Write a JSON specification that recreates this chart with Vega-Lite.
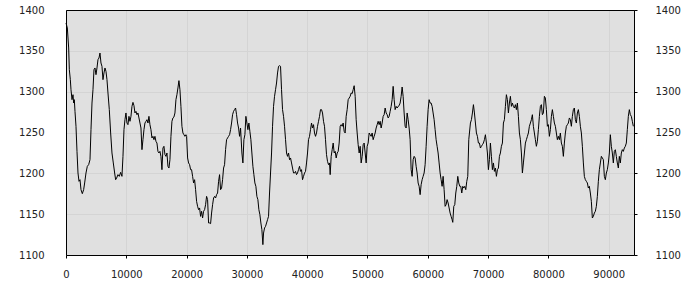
{
  "$schema": "https://vega.github.io/schema/vega-lite/v6.json",
  "width": 568,
  "height": 245,
  "autosize": {"type": "none"},
  "padding": {"left": 66, "top": 10, "right": 66, "bottom": 45},
  "background": "#ffffff",
  "view": {"fill": "#e0e0e0", "stroke": "#000000", "strokeWidth": 1},
  "config": {
    "axis": {
      "labelFont": "DejaVu Sans",
      "labelFontSize": 10,
      "labelColor": "#222222",
      "domainColor": "#000000",
      "tickColor": "#000000",
      "gridColor": "#d4d4d4",
      "gridOpacity": 1,
      "title": null
    }
  },
  "data": {"values": [
{"x":0,"v":1384.1},{"x":221,"v":1378.0},{"x":442,"v":1353.5},{"x":553,"v":1326.9},{"x":718,"v":1314.7},{"x":829,"v":1302.4},{"x":995,"v":1290.2},{"x":1160,"v":1296.3},{"x":1271,"v":1286.1},{"x":1381,"v":1290.2},{"x":1492,"v":1275.9},{"x":1658,"v":1257.6},{"x":1823,"v":1226.9},{"x":1989,"v":1200.4},{"x":2155,"v":1190.2},{"x":2321,"v":1192.2},{"x":2486,"v":1180.0},{"x":2707,"v":1175.1},{"x":2928,"v":1180.0},{"x":3094,"v":1188.2},{"x":3315,"v":1200.4},{"x":3536,"v":1208.6},{"x":3757,"v":1210.6},{"x":3978,"v":1216.7},{"x":4144,"v":1253.5},{"x":4310,"v":1286.1},{"x":4475,"v":1302.4},{"x":4641,"v":1326.9},{"x":4807,"v":1329.0},{"x":4973,"v":1320.8},{"x":5138,"v":1329.0},{"x":5304,"v":1339.2},{"x":5470,"v":1341.2},{"x":5636,"v":1347.3},{"x":5801,"v":1335.1},{"x":5967,"v":1331.0},{"x":6133,"v":1314.7},{"x":6299,"v":1322.9},{"x":6464,"v":1329.0},{"x":6630,"v":1324.9},{"x":6796,"v":1314.7},{"x":6962,"v":1298.4},{"x":7183,"v":1278.0},{"x":7404,"v":1249.4},{"x":7625,"v":1224.9},{"x":7846,"v":1212.7},{"x":8067,"v":1200.4},{"x":8232,"v":1192.2},{"x":8398,"v":1194.3},{"x":8619,"v":1198.4},{"x":8840,"v":1196.3},{"x":9061,"v":1201.2},{"x":9282,"v":1196.3},{"x":9448,"v":1220.8},{"x":9614,"v":1253.5},{"x":9779,"v":1265.7},{"x":9945,"v":1273.9},{"x":10111,"v":1261.6},{"x":10277,"v":1259.6},{"x":10442,"v":1269.8},{"x":10608,"v":1263.7},{"x":10774,"v":1269.8},{"x":10940,"v":1282.0},{"x":11105,"v":1286.9},{"x":11271,"v":1282.9},{"x":11437,"v":1273.9},{"x":11603,"v":1275.9},{"x":11768,"v":1271.8},{"x":11934,"v":1273.9},{"x":12100,"v":1267.8},{"x":12266,"v":1261.6},{"x":12431,"v":1255.5},{"x":12597,"v":1229.0},{"x":12763,"v":1241.2},{"x":12929,"v":1253.5},{"x":13094,"v":1261.6},{"x":13260,"v":1263.7},{"x":13426,"v":1265.7},{"x":13592,"v":1261.6},{"x":13757,"v":1269.8},{"x":13923,"v":1259.6},{"x":14089,"v":1253.5},{"x":14255,"v":1243.3},{"x":14420,"v":1245.3},{"x":14586,"v":1241.2},{"x":14752,"v":1245.3},{"x":14918,"v":1239.2},{"x":15083,"v":1237.1},{"x":15249,"v":1226.9},{"x":15415,"v":1224.9},{"x":15581,"v":1226.9},{"x":15746,"v":1220.8},{"x":15912,"v":1204.5},{"x":16078,"v":1231.0},{"x":16244,"v":1233.1},{"x":16409,"v":1222.9},{"x":16575,"v":1220.8},{"x":16741,"v":1224.9},{"x":16907,"v":1208.6},{"x":17072,"v":1206.5},{"x":17238,"v":1216.7},{"x":17404,"v":1245.3},{"x":17570,"v":1263.7},{"x":17735,"v":1267.8},{"x":17901,"v":1269.0},{"x":18067,"v":1273.9},{"x":18233,"v":1290.2},{"x":18398,"v":1296.3},{"x":18564,"v":1304.5},{"x":18730,"v":1313.5},{"x":18896,"v":1302.4},{"x":19061,"v":1282.0},{"x":19227,"v":1257.6},{"x":19393,"v":1249.4},{"x":19559,"v":1247.3},{"x":19724,"v":1245.3},{"x":19890,"v":1247.3},{"x":20001,"v":1245.3},{"x":20166,"v":1218.8},{"x":20332,"v":1212.7},{"x":20498,"v":1210.6},{"x":20664,"v":1204.5},{"x":20829,"v":1204.5},{"x":20995,"v":1196.3},{"x":21161,"v":1188.2},{"x":21327,"v":1192.2},{"x":21492,"v":1180.0},{"x":21658,"v":1165.7},{"x":21824,"v":1159.6},{"x":21990,"v":1155.5},{"x":22155,"v":1157.6},{"x":22321,"v":1147.3},{"x":22487,"v":1153.5},{"x":22653,"v":1145.3},{"x":22818,"v":1153.5},{"x":22984,"v":1155.5},{"x":23150,"v":1161.6},{"x":23316,"v":1171.8},{"x":23481,"v":1167.8},{"x":23647,"v":1139.2},{"x":23813,"v":1139.2},{"x":23979,"v":1138.4},{"x":24144,"v":1151.4},{"x":24310,"v":1161.6},{"x":24476,"v":1169.8},{"x":24642,"v":1171.8},{"x":24807,"v":1169.8},{"x":24973,"v":1173.9},{"x":25139,"v":1175.9},{"x":25305,"v":1190.2},{"x":25470,"v":1198.4},{"x":25636,"v":1180.0},{"x":25802,"v":1182.0},{"x":25968,"v":1192.2},{"x":26133,"v":1206.5},{"x":26299,"v":1210.6},{"x":26465,"v":1229.0},{"x":26631,"v":1241.2},{"x":26796,"v":1243.3},{"x":26962,"v":1245.3},{"x":27128,"v":1247.3},{"x":27294,"v":1253.5},{"x":27459,"v":1261.6},{"x":27625,"v":1271.8},{"x":27791,"v":1275.9},{"x":27957,"v":1278.0},{"x":28122,"v":1280.0},{"x":28288,"v":1271.8},{"x":28454,"v":1261.6},{"x":28620,"v":1255.5},
{"x":28785,"v":1245.3},{"x":28950,"v":1255.5},{"x":29171,"v":1224.9},{"x":29337,"v":1212.7},{"x":29503,"v":1241.2},{"x":29669,"v":1247.3},{"x":29834,"v":1269.8},{"x":30000,"v":1261.6},{"x":30166,"v":1253.5},{"x":30332,"v":1261.6},{"x":30497,"v":1251.4},{"x":30663,"v":1241.2},{"x":30829,"v":1224.9},{"x":30995,"v":1208.6},{"x":31160,"v":1198.4},{"x":31326,"v":1188.2},{"x":31492,"v":1184.1},{"x":31658,"v":1171.8},{"x":31823,"v":1167.8},{"x":31989,"v":1155.5},{"x":32155,"v":1149.4},{"x":32321,"v":1139.2},{"x":32486,"v":1131.0},{"x":32652,"v":1112.7},{"x":32763,"v":1126.9},{"x":32928,"v":1133.1},{"x":33094,"v":1135.1},{"x":33260,"v":1139.2},{"x":33426,"v":1143.3},{"x":33591,"v":1147.3},{"x":33757,"v":1175.9},{"x":33923,"v":1200.4},{"x":34089,"v":1224.9},{"x":34254,"v":1257.6},{"x":34420,"v":1282.0},{"x":34586,"v":1294.3},{"x":34752,"v":1302.4},{"x":34917,"v":1310.6},{"x":35083,"v":1322.9},{"x":35249,"v":1331.0},{"x":35415,"v":1331.8},{"x":35580,"v":1331.0},{"x":35746,"v":1302.4},{"x":35912,"v":1278.0},{"x":36078,"v":1269.8},{"x":36243,"v":1257.6},{"x":36409,"v":1241.2},{"x":36575,"v":1224.9},{"x":36741,"v":1220.8},{"x":36906,"v":1224.9},{"x":37072,"v":1216.7},{"x":37238,"v":1218.8},{"x":37404,"v":1212.7},{"x":37569,"v":1206.5},{"x":37735,"v":1200.4},{"x":37901,"v":1200.4},{"x":38067,"v":1202.4},{"x":38232,"v":1198.4},{"x":38398,"v":1200.4},{"x":38564,"v":1204.5},{"x":38730,"v":1208.6},{"x":38895,"v":1202.4},{"x":39061,"v":1204.5},{"x":39227,"v":1192.2},{"x":39393,"v":1196.3},{"x":39558,"v":1200.4},{"x":39724,"v":1202.4},{"x":39890,"v":1212.7},{"x":40056,"v":1224.9},{"x":40221,"v":1241.2},{"x":40387,"v":1245.3},{"x":40553,"v":1253.5},{"x":40719,"v":1261.6},{"x":40884,"v":1255.5},{"x":41050,"v":1259.6},{"x":41216,"v":1249.4},{"x":41382,"v":1245.3},{"x":41547,"v":1249.4},{"x":41713,"v":1257.6},{"x":41879,"v":1263.7},{"x":42045,"v":1269.8},{"x":42210,"v":1278.0},{"x":42376,"v":1278.0},{"x":42542,"v":1273.9},{"x":42708,"v":1263.7},{"x":42873,"v":1257.6},{"x":43039,"v":1241.2},{"x":43205,"v":1222.9},{"x":43371,"v":1214.7},{"x":43536,"v":1210.6},{"x":43702,"v":1212.7},{"x":43813,"v":1198.4},{"x":43978,"v":1220.8},{"x":44144,"v":1229.0},{"x":44310,"v":1237.1},{"x":44476,"v":1224.9},{"x":44641,"v":1226.9},{"x":44807,"v":1218.8},{"x":44973,"v":1224.9},{"x":45139,"v":1226.9},{"x":45304,"v":1237.1},{"x":45470,"v":1257.6},{"x":45636,"v":1259.6},{"x":45802,"v":1257.6},{"x":45967,"v":1261.6},{"x":46133,"v":1251.4},{"x":46299,"v":1249.4},{"x":46465,"v":1269.8},{"x":46630,"v":1278.0},{"x":46796,"v":1290.2},{"x":46962,"v":1292.2},{"x":47128,"v":1294.3},{"x":47293,"v":1298.4},{"x":47459,"v":1297.6},{"x":47625,"v":1302.4},{"x":47791,"v":1307.3},{"x":47956,"v":1294.3},{"x":48122,"v":1265.7},{"x":48288,"v":1249.4},{"x":48454,"v":1235.1},{"x":48619,"v":1224.9},{"x":48785,"v":1233.1},{"x":48951,"v":1212.7},{"x":49117,"v":1220.8},{"x":49282,"v":1235.1},{"x":49448,"v":1237.1},{"x":49614,"v":1224.9},{"x":49780,"v":1212.7},{"x":49945,"v":1233.1},{"x":50111,"v":1237.1},{"x":50277,"v":1249.4},{"x":50443,"v":1247.3},{"x":50608,"v":1245.3},{"x":50774,"v":1249.4},{"x":50940,"v":1241.2},{"x":51106,"v":1245.3},{"x":51271,"v":1249.4},{"x":51437,"v":1255.5},{"x":51603,"v":1259.6},{"x":51769,"v":1263.7},{"x":51934,"v":1259.6},{"x":52100,"v":1263.7},{"x":52266,"v":1255.5},{"x":52432,"v":1261.6},{"x":52597,"v":1269.8},{"x":52763,"v":1271.8},{"x":52929,"v":1280.0},{"x":53095,"v":1273.9},{"x":53260,"v":1271.8},{"x":53426,"v":1267.8},{"x":53592,"v":1269.8},{"x":53758,"v":1275.9},{"x":53923,"v":1282.0},{"x":54089,"v":1290.2},{"x":54255,"v":1306.5},{"x":54421,"v":1290.2},{"x":54586,"v":1278.0},{"x":54752,"v":1282.0},{"x":54918,"v":1280.0},{"x":55084,"v":1282.0},{"x":55249,"v":1282.9},{"x":55415,"v":1286.1},{"x":55581,"v":1294.3},{"x":55747,"v":1305.7},{"x":55912,"v":1294.3},{"x":56078,"v":1273.9},{"x":56244,"v":1257.6},{"x":56410,"v":1255.5},{"x":56575,"v":1273.9},{"x":56741,"v":1265.7},{"x":56907,"v":1255.5},{"x":57073,"v":1241.2},{"x":57238,"v":1204.5},{"x":57404,"v":1196.3},{"x":57570,"v":1216.7},{"x":57736,"v":1220.8},{"x":57901,"v":1218.8},{"x":58067,"v":1208.6},{"x":58233,"v":1200.4},{"x":58399,"v":1188.2},{"x":58564,"v":1184.1},{"x":58730,"v":1173.9},{"x":58896,"v":1186.1},{"x":59062,"v":1192.2},{"x":59227,"v":1196.3},{"x":59393,"v":1200.4},{"x":59559,"v":1210.6},{"x":59725,"v":1233.1},{"x":59890,"v":1257.6},{"x":60056,"v":1278.0},{"x":60222,"v":1290.2},{"x":60388,"v":1286.1},{"x":60553,"v":1286.1},{"x":60719,"v":1282.0},{"x":60885,"v":1273.9},{"x":61051,"v":1265.7},{"x":61216,"v":1253.5},{"x":61382,"v":1241.2},{"x":61548,"v":1233.1},{"x":61714,"v":1224.9},{"x":61879,"v":1212.7},{"x":62045,"v":1200.4},{"x":62211,"v":1192.2},{"x":62377,"v":1184.1},{"x":62542,"v":1196.3},{"x":62708,"v":1180.0},{"x":62874,"v":1159.6},{"x":63040,"v":1161.6},{"x":63205,"v":1167.8},{"x":63371,"v":1163.7},{"x":63537,"v":1157.6},{"x":63703,"v":1151.4},{"x":63868,"v":1147.3},{"x":64034,"v":1143.3},{"x":64145,"v":1140.0},{"x":64311,"v":1159.6},{"x":64476,"v":1161.6},{"x":64642,"v":1175.9},{"x":64808,"v":1184.1},{"x":64974,"v":1196.3},{"x":65139,"v":1188.2},{"x":65305,"v":1184.1},{"x":65471,"v":1184.1},{"x":65637,"v":1175.9},{"x":65802,"v":1184.1},{"x":65968,"v":1182.0},{"x":66134,"v":1184.1},{"x":66300,"v":1180.0},{"x":66465,"v":1190.2},{"x":66631,"v":1196.3},{"x":66797,"v":1241.2},
{"x":67072,"v":1261.6},{"x":67238,"v":1265.7},{"x":67403,"v":1273.9},{"x":67569,"v":1284.1},{"x":67735,"v":1273.9},{"x":67901,"v":1261.6},{"x":68066,"v":1249.4},{"x":68232,"v":1245.3},{"x":68398,"v":1237.1},{"x":68564,"v":1237.1},{"x":68729,"v":1231.0},{"x":68895,"v":1233.1},{"x":69061,"v":1235.1},{"x":69227,"v":1237.1},{"x":69392,"v":1241.2},{"x":69558,"v":1247.3},{"x":69724,"v":1237.1},{"x":69890,"v":1224.9},{"x":70055,"v":1204.5},{"x":70221,"v":1216.7},{"x":70387,"v":1237.1},{"x":70553,"v":1220.8},{"x":70718,"v":1204.5},{"x":70884,"v":1212.7},{"x":71050,"v":1202.4},{"x":71216,"v":1206.5},{"x":71381,"v":1196.3},{"x":71547,"v":1204.5},{"x":71713,"v":1206.5},{"x":71879,"v":1220.8},{"x":72044,"v":1224.9},{"x":72210,"v":1233.1},{"x":72376,"v":1237.1},{"x":72542,"v":1261.6},{"x":72707,"v":1265.7},{"x":72873,"v":1282.0},{"x":73039,"v":1296.3},{"x":73205,"v":1290.2},{"x":73370,"v":1273.9},{"x":73536,"v":1286.1},{"x":73702,"v":1294.3},{"x":73868,"v":1282.0},{"x":74033,"v":1286.1},{"x":74199,"v":1282.0},{"x":74365,"v":1280.0},{"x":74531,"v":1284.1},{"x":74696,"v":1278.0},{"x":74862,"v":1286.1},{"x":75028,"v":1269.8},{"x":75194,"v":1249.4},{"x":75359,"v":1241.2},{"x":75525,"v":1224.9},{"x":75691,"v":1200.4},{"x":75857,"v":1212.7},{"x":76022,"v":1224.9},{"x":76188,"v":1237.1},{"x":76354,"v":1241.2},{"x":76520,"v":1245.3},{"x":76685,"v":1249.4},{"x":76851,"v":1257.6},{"x":77017,"v":1261.6},{"x":77183,"v":1265.7},{"x":77348,"v":1271.8},{"x":77514,"v":1257.6},{"x":77680,"v":1249.4},{"x":77846,"v":1241.2},{"x":78011,"v":1233.1},{"x":78177,"v":1239.2},{"x":78343,"v":1253.5},{"x":78509,"v":1269.8},{"x":78674,"v":1282.0},{"x":78840,"v":1284.1},{"x":79006,"v":1271.8},{"x":79172,"v":1273.9},{"x":79337,"v":1294.3},{"x":79503,"v":1292.2},{"x":79669,"v":1278.0},{"x":79835,"v":1257.6},{"x":80000,"v":1259.6},{"x":80166,"v":1245.3},{"x":80332,"v":1253.5},{"x":80498,"v":1269.8},{"x":80663,"v":1278.0},{"x":80829,"v":1269.8},{"x":80995,"v":1261.6},{"x":81161,"v":1257.6},{"x":81326,"v":1249.4},{"x":81492,"v":1241.2},{"x":81658,"v":1245.3},{"x":81824,"v":1241.2},{"x":81989,"v":1249.4},{"x":82155,"v":1237.1},{"x":82321,"v":1233.1},{"x":82487,"v":1220.8},{"x":82652,"v":1237.1},{"x":82818,"v":1249.4},{"x":82984,"v":1257.6},{"x":83150,"v":1259.6},{"x":83315,"v":1261.6},{"x":83481,"v":1267.8},{"x":83647,"v":1265.7},{"x":83813,"v":1257.6},{"x":83978,"v":1269.8},{"x":84144,"v":1278.0},{"x":84310,"v":1280.0},{"x":84476,"v":1265.7},{"x":84641,"v":1261.6},{"x":84807,"v":1273.9},{"x":84973,"v":1278.0},{"x":85139,"v":1269.8},{"x":85304,"v":1257.6},{"x":85470,"v":1249.4},{"x":85636,"v":1233.1},{"x":85802,"v":1212.7},{"x":85967,"v":1196.3},{"x":86133,"v":1192.2},{"x":86299,"v":1190.2},{"x":86465,"v":1188.2},{"x":86630,"v":1182.0},{"x":86796,"v":1184.1},{"x":86962,"v":1175.9},{"x":87128,"v":1165.7},{"x":87293,"v":1145.3},{"x":87459,"v":1147.3},{"x":87625,"v":1151.4},{"x":87791,"v":1153.5},{"x":87956,"v":1159.6},{"x":88122,"v":1171.8},{"x":88288,"v":1190.2},{"x":88454,"v":1204.5},{"x":88619,"v":1212.7},{"x":88785,"v":1220.8},{"x":88951,"v":1218.8},{"x":89117,"v":1216.7},{"x":89282,"v":1196.3},{"x":89448,"v":1192.2},{"x":89614,"v":1200.4},{"x":89780,"v":1204.5},{"x":89945,"v":1212.7},{"x":90111,"v":1224.9},{"x":90277,"v":1247.3},{"x":90443,"v":1233.1},{"x":90608,"v":1224.9},{"x":90774,"v":1212.7},{"x":90940,"v":1226.9},{"x":91106,"v":1228.9},{"x":91271,"v":1220.8},{"x":91437,"v":1212.7},{"x":91603,"v":1206.5},{"x":91769,"v":1220.8},{"x":91934,"v":1212.7},{"x":92100,"v":1224.9},{"x":92266,"v":1229.0},{"x":92432,"v":1226.9},{"x":92597,"v":1231.0},{"x":92763,"v":1233.1},{"x":92929,"v":1237.1},{"x":93095,"v":1253.5},{"x":93260,"v":1269.8},{"x":93426,"v":1278.0},{"x":93592,"v":1271.8},{"x":93758,"v":1269.8},{"x":93923,"v":1263.7},{"x":94089,"v":1257.6}
  ]},
  "layer": [
    {
      "mark": {"type": "line", "color": "#000000", "strokeWidth": 1, "interpolate": "linear"},
      "encoding": {
        "x": {
          "field": "x", "type": "quantitative",
          "scale": {"domain": [0, 94200], "nice": false, "zero": false},
          "axis": {"orient": "bottom", "values": [0,10000,20000,30000,40000,50000,60000,70000,80000,90000], "format": "d", "tickSize": 3, "labelPadding": 11, "grid": true, "labelFlush": false}
        },
        "y": {
          "field": "v", "type": "quantitative",
          "scale": {"domain": [1100, 1400], "nice": false, "zero": false},
          "axis": {"orient": "left", "values": [1100,1150,1200,1250,1300,1350,1400], "ticks": false, "labelPadding": 22, "grid": true, "format": "d"}
        }
      }
    },
    {
      "mark": {"type": "line", "opacity": 0},
      "encoding": {
        "x": {
          "field": "x", "type": "quantitative",
          "scale": {"domain": [0, 94200], "nice": false, "zero": false},
          "axis": {"orient": "top", "labels": false, "ticks": false, "grid": false, "values": []}
        },
        "y": {
          "field": "v", "type": "quantitative",
          "scale": {"domain": [1100, 1400], "nice": false, "zero": false},
          "axis": {"orient": "right", "values": [1100,1150,1200,1250,1300,1350,1400], "tickSize": 3, "labelPadding": 18, "grid": false, "format": "d"}
        }
      }
    }
  ],
  "resolve": {"axis": {"x": "independent", "y": "independent"}}
}
